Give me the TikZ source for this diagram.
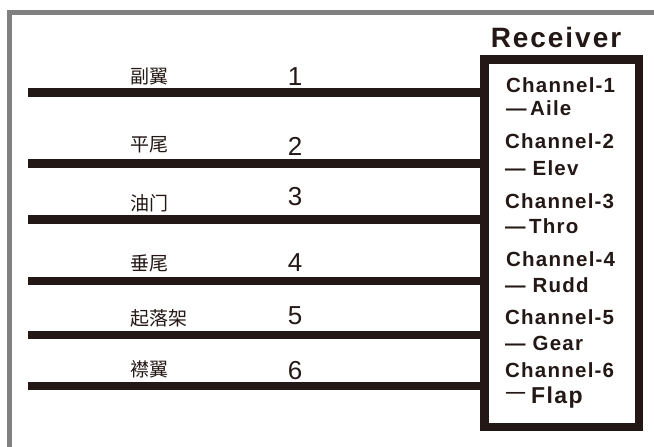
\documentclass[tikz,border=0pt]{standalone}
\usepackage{fontspec}
\setmainfont{Liberation Sans}
\newfontfamily\cjk{Noto Sans CJK SC}
\newfontfamily\recfont[LetterSpace=7]{Liberation Sans Bold}
\newfontfamily\chfont[LetterSpace=6]{Liberation Sans Bold}
\definecolor{ink}{HTML}{231815}
\definecolor{framegray}{HTML}{808080}
\begin{document}
\begin{tikzpicture}[x=1pt,y=-1pt,
  wire/.style={draw=ink,line width=8.5pt},
  cnlabel/.style={anchor=west,inner sep=0pt,text=ink,font=\cjk\fontsize{19}{19}\selectfont},
  numlabel/.style={anchor=center,inner sep=0pt,text=ink,font=\fontsize{26}{26}\selectfont},
  chlabel/.style={anchor=base west,inner sep=0pt,text=ink,font=\chfont\fontsize{20.5}{20.5}\selectfont},
]
\useasboundingbox (0,0) rectangle (654,447);
% outer gray frame (only top and left visible)
\draw[framegray,line width=5pt] (9.5,447) -- (9.5,12.5) -- (654,12.5);
% receiver box
\node[draw=ink,line width=8.5pt,inner sep=0pt,minimum width=154.5pt,minimum height=367.5pt] (box) at (561.5,243) {};
\node[anchor=base,inner sep=0pt,text=ink,font=\recfont\fontsize{28}{28}\selectfont] (rec) at (556,47) {Receiver};
% wires
\foreach \i/\y in {1/92.5,2/163.5,3/219.5,4/281,5/335,6/386}{
  \coordinate (w\i) at (28,\y);
  \draw[wire] (w\i) -- (w\i -| box.west);
}
% chinese labels
\node[cnlabel] (c1) at (130,76) {副翼};
\node[cnlabel] (c2) at (130,145) {平尾};
\node[cnlabel] (c3) at (130,203) {油门};
\node[cnlabel] (c4) at (130,263) {垂尾};
\node[cnlabel] (c5) at (130,318) {起落架};
\node[cnlabel] (c6) at (130,369) {襟翼};
% numbers
\node[numlabel] (n1) at (295,77) {1};
\node[numlabel] (n2) at (295,146) {2};
\node[numlabel] (n3) at (295,197) {3};
\node[numlabel] (n4) at (295,263) {4};
\node[numlabel] (n5) at (295,316) {5};
\node[numlabel] (n6) at (295,371) {6};
% channel labels
\node[chlabel] (h1) at (506,92) {Channel-1};
\node[chlabel] (f1) at (506,115) {—\,Aile};
\node[chlabel] (h2) at (505,148) {Channel-2};
\node[chlabel] (f2) at (505,175) {— Elev};
\node[chlabel] (h3) at (505,208) {Channel-3};
\node[chlabel] (f3) at (505,233) {—\,Thro};
\node[chlabel] (h4) at (506,266) {Channel-4};
\node[chlabel] (f4) at (505,292) {— Rudd};
\node[chlabel] (h5) at (505,324) {Channel-5};
\node[chlabel] (f5) at (505,350) {— Gear};
\node[chlabel] (h6) at (505,377) {Channel-6};
\node[chlabel] (f6) at (505,403) {\raisebox{2pt}{\cjk\fontsize{21}{21}\selectfont 一}\hspace{5pt}{\fontsize{23}{23}\selectfont Flap}};
\end{tikzpicture}
\end{document}
